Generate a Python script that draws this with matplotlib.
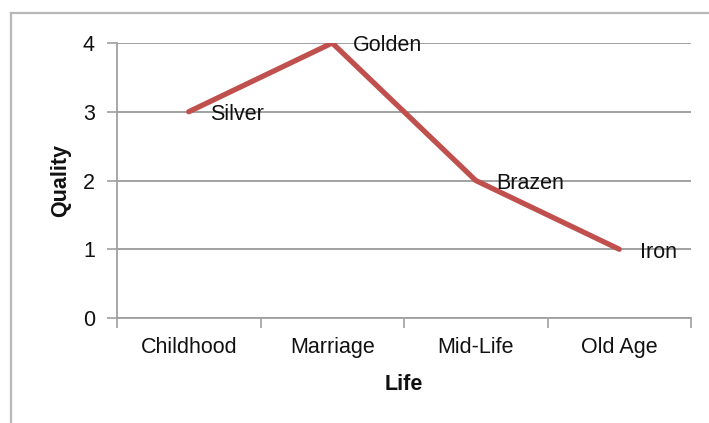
import matplotlib
matplotlib.use("Agg")
import matplotlib.pyplot as plt
from matplotlib.lines import Line2D

categories = ["Childhood", "Marriage", "Mid-Life", "Old Age"]
quality = [3, 4, 2, 1]
labels = ["Silver", "Golden", "Brazen", "Iron"]
yticks = [0, 1, 2, 3, 4]

plt.rcParams['font.family'] = ['Liberation Sans', 'DejaVu Sans']
FS = 15.5

fig = plt.figure(figsize=(7.09, 4.23), dpi=100)
W, H = 709, 423
ax = fig.add_axes([117 / W, 1 - 318 / H, (691 - 117) / W, (318 - 43) / H])

x = [i + 0.5 for i in range(len(categories))]
ax.plot(x, quality, color="#C0504D", lw=3.8, solid_capstyle="round", zorder=3)
for xi, yi, lab in zip(x, quality, labels):
    ax.annotate(lab, (xi, yi), xytext=(15, -2), textcoords="offset points",
                va="center", ha="left", fontsize=FS, color="#111111", zorder=4)

ax.set_xlim(0, len(categories))
ax.set_ylim(0, 4)
ax.set_yticks(yticks)
ax.set_yticklabels([str(v) for v in yticks], fontsize=FS, color="#111111")
ax.set_xticks(range(len(categories) + 1))
ax.set_xticklabels([])
ax.set_xticks(x, minor=True)
ax.set_xticklabels(categories, minor=True, fontsize=FS, color="#111111")
ax.tick_params(axis="x", which="minor", length=0, pad=14)
ax.tick_params(axis="x", which="major", length=7, color="#a0a0a0", width=1.2)
ax.tick_params(axis="y", length=7, color="#a0a0a0", width=1.2, pad=9)

ax.grid(axis="y", color="#9a9a9a", lw=1.3)
ax.set_axisbelow(True)
for s in ["top", "right"]:
    ax.spines[s].set_visible(False)
for s in ["left", "bottom"]:
    ax.spines[s].set_color("#a0a0a0")
    ax.spines[s].set_linewidth(1.3)

ax.set_ylabel("Quality", fontsize=FS, fontweight="bold", color="#111111")
ax.yaxis.set_label_coords(-0.08, 0.5)
ax.set_xlabel("Life", fontsize=FS, fontweight="bold", color="#111111")
ax.xaxis.set_label_coords(0.5, -0.205)

# outer chart frame
fig.add_artist(Line2D([11 / W, 1.0], [1 - 13 / H, 1 - 13 / H], transform=fig.transFigure,
                      color="#b8b8b8", lw=1.6))
fig.add_artist(Line2D([11 / W, 11 / W], [0.0, 1 - 13 / H], transform=fig.transFigure,
                      color="#b8b8b8", lw=1.6))

fig.savefig("out.png", dpi=100, facecolor="white")
